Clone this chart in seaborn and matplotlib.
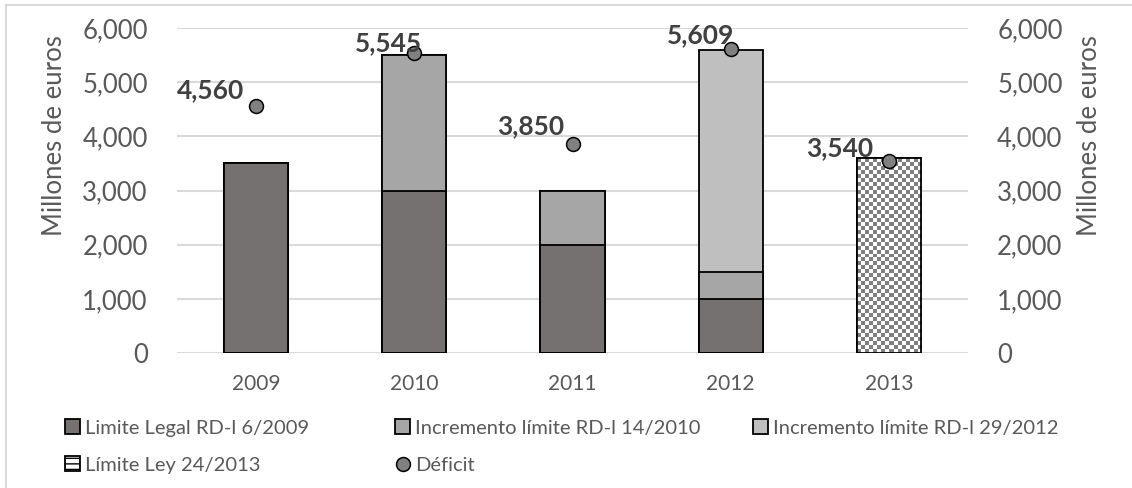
import numpy as np
import pandas as pd
import matplotlib
matplotlib.use("Agg")
import matplotlib.pyplot as plt
import matplotlib.patches as mpatches
from matplotlib.lines import Line2D
from matplotlib.ticker import FuncFormatter
import seaborn as sns

# ---- data (millones de euros) ----
years = ["2009", "2010", "2011", "2012", "2013"]
limite_legal = [3500, 3000, 2000, 1000, 0]        # Limite Legal RD-l 6/2009
incremento_2010 = [0, 2500, 1000, 500, 0]         # Incremento límite RD-l 14/2010
incremento_2012 = [0, 0, 0, 4100, 0]              # Incremento límite RD-l 29/2012
limite_ley = [0, 0, 0, 0, 3600]                   # Límite Ley 24/2013
deficit = [4560, 5545, 3850, 5609, 3540]          # Déficit

series_names = [
    "Limite Legal RD-l 6/2009",
    "Incremento límite RD-l 14/2010",
    "Incremento límite RD-l 29/2012",
    "Límite Ley 24/2013",
    "Déficit",
]

# ---- style ----
sns.set_style("white")
plt.rcParams["font.family"] = ["Lato", "DejaVu Sans"]
TXT = "#595959"
LAB = "#404040"
GRID = "#D9D9D9"
C_LEGAL = "#767171"
C_INC10 = "#A6A6A6"
C_INC12 = "#BFBFBF"
C_DEF = "#808080"

W, H = 1132, 488
fig = plt.figure(figsize=(W / 100, H / 100), dpi=100)
ax = fig.add_axes([177 / W, 1 - 353 / H, (968 - 177) / W, (353 - 28) / H])

df = pd.DataFrame({
    "year": years,
    "legal": limite_legal,
    "inc10": incremento_2010,
    "inc12": incremento_2012,
    "ley": limite_ley,
    "deficit": deficit,
})
df["c1"] = df["legal"]
df["c2"] = df["c1"] + df["inc10"]
df["c3"] = df["c2"] + df["inc12"]

BAR_W = 0.405
bar_kw = dict(width=BAR_W, edgecolor="black", linewidth=1.3, order=years, errorbar=None, ax=ax)

# stacked bars: draw cumulative totals from the top layer down
sns.barplot(data=df, x="year", y="c3", color=C_INC12, saturation=1, zorder=2, **bar_kw)
sns.barplot(data=df, x="year", y="c2", color=C_INC10, saturation=1, zorder=2, **bar_kw)
sns.barplot(data=df, x="year", y="c1", color=C_LEGAL, saturation=1, zorder=2, **bar_kw)
n_before = len(ax.patches)
sns.barplot(data=df, x="year", y="ley", color="white", saturation=1, zorder=2, **bar_kw)
ley_patches = ax.patches[n_before:]

ax.set_xlim(-0.5, len(years) - 0.5)
ax.set_ylim(0, 6000)
ax.set_yticks(range(0, 6001, 1000))

# checkered fill for the Ley 24/2013 bar
fig.canvas.draw()
for p, v in zip(ley_patches, limite_ley):
    if v <= 0:
        continue
    x0, w = p.get_x(), p.get_width()
    h = p.get_height()
    (px0, py0) = ax.transData.transform((x0, 0))
    (px1, py1) = ax.transData.transform((x0 + w, h))
    cell = 4.0
    ncol = max(1, int(round((px1 - px0) / cell)))
    nrow = max(1, int(round((py1 - py0) / cell)))
    board = (np.add.outer(np.arange(nrow), np.arange(ncol)) % 2).astype(float)
    cmap = matplotlib.colors.ListedColormap(["#7F7F7F", "white"])
    im = ax.imshow(board, cmap=cmap, extent=(x0, x0 + w, 0, h), aspect="auto",
                   interpolation="nearest", zorder=2.1, origin="lower")
    im.set_clip_path(p)
    ax.add_patch(mpatches.Rectangle(p.get_xy(), w, h, fill=False,
                                    edgecolor="black", linewidth=1.3, zorder=2.2))

ax.set_xlim(-0.5, len(years) - 0.5)
ax.set_ylim(0, 6000)

# deficit points
sns.pointplot(data=df, x="year", y="deficit", order=years, errorbar=None,
              linestyle="none", marker="o", color=C_DEF, markersize=10,
              markeredgecolor="black", markeredgewidth=1.1, ax=ax, zorder=5)
ax.set_xlim(-0.5, len(years) - 0.5)
ax.set_ylim(0, 6000)

# value labels
label_offsets = [(-12, 16), (8, 9.5), (-8, 18), (4, 14), (-16, 13)]
for i, (v, off) in enumerate(zip(deficit, label_offsets)):
    ax.annotate(f"{v:,}", xy=(i, v), xytext=off, textcoords="offset pixels",
                ha="right", va="center", fontsize=19, fontweight="bold",
                color=LAB, zorder=6)

# axes cosmetics
fmt = FuncFormatter(lambda v, _: f"{int(v):,}")
ax.yaxis.set_major_formatter(fmt)
ax.grid(axis="y", color=GRID, linewidth=1.5, zorder=0)
ax.set_axisbelow(True)
for s in ax.spines.values():
    s.set_visible(False)
ax.tick_params(axis="both", length=0)
ax.tick_params(axis="y", labelsize=18.5, labelcolor=TXT, pad=21)
ax.tick_params(axis="x", labelsize=15, labelcolor=TXT, pad=15)
ax.set_xlabel("")
ax.set_ylabel("Millones de euros", fontsize=18.5, color=TXT)
ax.yaxis.set_label_coords((67 - 177) / 791, 0.67)

ax2 = ax.twinx()
ax2.set_ylim(0, 6000)
ax2.set_yticks(range(0, 6001, 1000))
ax2.yaxis.set_major_formatter(fmt)
for s in ax2.spines.values():
    s.set_visible(False)
ax2.tick_params(axis="y", length=0, labelsize=18.5, labelcolor=TXT, pad=21)
ax2.set_ylabel("Millones de euros", fontsize=18.5, color=TXT)
ax2.yaxis.set_label_coords((1077 - 177) / 791, 0.67)

# legend, one entry per slot
handles = [
    mpatches.Patch(facecolor=C_LEGAL, edgecolor="black", linewidth=1.3),
    mpatches.Patch(facecolor=C_INC10, edgecolor="black", linewidth=1.3),
    mpatches.Patch(facecolor=C_INC12, edgecolor="black", linewidth=1.3),
    mpatches.Patch(facecolor="white", edgecolor="black", linewidth=1.3, hatch="---"),
    Line2D([], [], linestyle="none", marker="o", markersize=10,
           markerfacecolor=C_DEF, markeredgecolor="black", markeredgewidth=1.1),
]
slots = [(65, 428), (395, 428), (753, 428), (65, 465), (395, 465)]
for h, name, (sx, sy) in zip(handles, series_names, slots):
    fig.legend(handles=[h], labels=[name], loc="center left",
               bbox_to_anchor=(sx / W, 1 - sy / H), frameon=False,
               borderpad=0, borderaxespad=0, handletextpad=0.25,
               handlelength=0.75, handleheight=0.75, fontsize=14.5,
               labelcolor=TXT)

# chart frame (left and top edges)
fig.add_artist(Line2D([6 / W, 6 / W], [0, 1 - 5 / H], color=GRID, linewidth=1.5))
fig.add_artist(Line2D([6 / W, 1], [1 - 5 / H, 1 - 5 / H], color=GRID, linewidth=1.5))

fig.savefig("out.png", dpi=100)
